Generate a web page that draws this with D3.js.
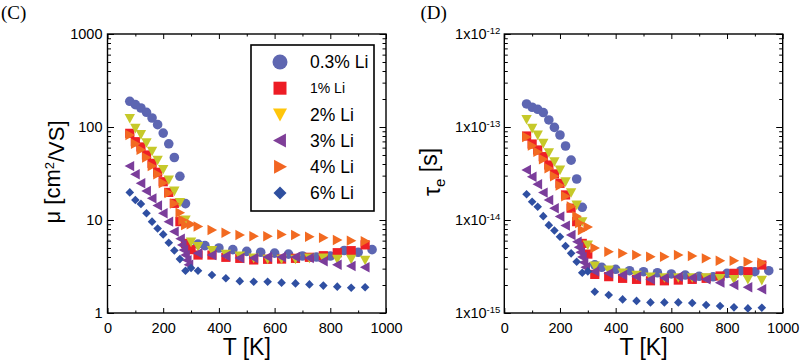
<!DOCTYPE html>
<html>
<head>
<meta charset="utf-8">
<script src="https://cdn.jsdelivr.net/npm/d3@7"></script>
<style>
  body { margin: 0; background: #fff; }
  svg { display: block; }
  text { font-family: "Liberation Sans", Arial, sans-serif; fill: #000; }
</style>
</head>
<body>
<svg id="fig" width="800" height="361"></svg>
<script>
// ---- data ----
var labels = ["0.3% Li", "1% Li", "2% Li", "3% Li", "4% Li", "6% Li"];

var tCirc = [80,100,120,140,160,180,200,220,240,260,280,325,350,400,450,500,550,600,650,700,750,800,850,900,950];
var muCirc = [189,174,160,144,125,106,86,66,47,29.5,15,5.5,5.3,5.0,4.8,4.6,4.5,4.4,4.3,4.1,4.0,4.1,4.7,4.5,4.8];
var tauCirc = [1.77e-13,1.63e-13,1.55e-13,1.43e-13,1.19e-13,9.9e-14,8.2e-14,6.25e-14,4.4e-14,2.76e-14,1.37e-14,
  3.3e-15,3.1e-15,2.95e-15,2.85e-15,2.78e-15,2.71e-15,2.63e-15,2.56e-15,2.48e-15,2.45e-15,2.67e-15,2.85e-15,2.78e-15,2.85e-15];

var tSq = [80,100,120,140,160,180,200,220,240,260,280,300,325,375,425,475,525,575,625,675,725,775,825,875,925];
var muSq = [85.5,69.5,61,50,40.7,32.6,25.8,19.8,15.1,9.6,5.6,4.8,4.2,4.2,3.97,3.87,3.72,3.78,3.8,3.87,3.97,4.13,4.45,4.68,5.4];
var tauSq = [8.0e-14,6.56e-14,5.66e-14,4.8e-14,3.9e-14,3.13e-14,2.48e-14,1.86e-14,1.34e-14,9.6e-15,5.6e-15,4.3e-15,
  2.6e-15,2.46e-15,2.36e-15,2.3e-15,2.22e-15,2.22e-15,2.26e-15,2.3e-15,2.36e-15,2.5e-15,2.67e-15,2.78e-15,3.28e-15];

var tYel = [80,100,120,140,160,180,200,220,240,260,280,300,325,375,425,475,525,575,625,675,725,775,825,875,925];
var muYel = [124,97,83,68,55,44,35,27,20.5,15.5,10,5.8,5.2,4.7,4.3,4.1,3.9,3.8,3.8,3.8,3.9,3.9,3.8,3.8,3.7];
var tauYel = [1.21e-13,9.7e-14,8.2e-14,6.7e-14,5.3e-14,4.24e-14,3.45e-14,2.58e-14,1.97e-14,1.45e-14,9.6e-15,5.4e-15,
  3.2e-15,2.9e-15,2.7e-15,2.55e-15,2.45e-15,2.4e-15,2.4e-15,2.4e-15,2.4e-15,2.35e-15,2.3e-15,2.3e-15,2.25e-15];

var tPur = [80,100,120,140,160,180,200,220,240,262,268,274,280,286,292,325,375,425,475,525,575,625,675,725,775,825,875,925];
var muPur = [38,31,24.8,20.5,17.1,14.3,11.8,9.6,7.5,6.3,5.4,4.75,4.2,3.7,3.3,4.4,4.2,4.1,3.9,3.9,4.0,4.0,4.0,3.9,3.6,3.3,3.2,3.1];
var tauPur = [3.45e-14,2.92e-14,2.42e-14,1.97e-14,1.64e-14,1.34e-14,1.09e-14,8.7e-15,6.9e-15,5.85e-15,5.1e-15,4.5e-15,4.0e-15,3.5e-15,3.1e-15,
  2.8e-15,2.67e-15,2.56e-15,2.46e-15,2.3e-15,2.38e-15,2.46e-15,2.4e-15,2.3e-15,2.12e-15,2.0e-15,1.89e-15,1.8e-15];

var tOr = [80,100,120,140,160,180,200,220,240,260,270,280,300,325,375,425,475,525,575,625,675,725,775,825,875,925];
var muOr = [82,66,57,47,38,31,25,19.5,15,12,10,8.8,9.0,8.5,7.8,7.3,6.9,6.7,6.7,7.0,6.9,6.6,6.45,6.1,6.0,5.9];
var tauOr = [7.8e-14,6.3e-14,5.4e-14,4.5e-14,3.6e-14,2.95e-14,2.35e-14,1.8e-14,1.4e-14,1.1e-14,9.3e-15,7.8e-15,8.4e-15,
  5.0e-15,4.56e-15,4.38e-15,4.2e-15,4.03e-15,4.03e-15,4.2e-15,4.1e-15,3.87e-15,3.65e-15,3.65e-15,3.55e-15,3.47e-15];

var tDia = [80,100,120,140,160,180,200,220,240,260,280,300,325,375,425,475,525,575,625,675,725,775,825,875,925];
var muDia = [19.8,16.4,14.9,11.8,9.6,8.1,7.0,5.7,4.7,3.8,2.85,3.05,2.85,2.56,2.36,2.2,2.17,2.17,2.12,2.08,2.03,1.97,1.92,1.87,1.89];
var tauDia = [1.89e-14,1.57e-14,1.39e-14,1.1e-14,8.8e-15,7.7e-15,6.6e-15,5.25e-15,4.38e-15,3.56e-15,2.71e-15,2.8e-15,
  1.69e-15,1.56e-15,1.4e-15,1.35e-15,1.3e-15,1.3e-15,1.3e-15,1.28e-15,1.22e-15,1.19e-15,1.15e-15,1.12e-15,1.14e-15];

var xTicks = [0,200,400,600,800,1000];
var muTicks = [1,10,100,1000];
var tauTicks = [1e-15,1e-14,1e-13,1e-12];

// ---- styling ----
var FONT = "'Liberation Sans', Arial, sans-serif";
var shapes = ["circle","square","down","left","right","diamond"];
var colors = ["#5d66b2","#ee1f26","#c6c92a","#7b3d9b","#f26a21","#2f4fa2"];
var legendColors = ["#5f67b1","#ed1c24","#ffc60b","#7f3f98","#f26522","#2f4f9f"];

var svg = d3.select("#fig");
var top_ = 34, bottom = 313;

function shapePath(kind, s) {
  if (kind == "circle") return d3.symbol().type(d3.symbolCircle).size(Math.PI * s * s)();
  if (kind == "square") return d3.symbol().type(d3.symbolSquare).size(4 * s * s)();
  if (kind == "down") return "M" + (-s) + "," + (-0.85 * s) + "L" + s + "," + (-0.85 * s) + "L0," + s + "Z";
  if (kind == "left") return "M" + (-s) + ",0L" + (0.85 * s) + "," + (-s) + "L" + (0.85 * s) + "," + s + "Z";
  if (kind == "right") return "M" + s + ",0L" + (-0.85 * s) + "," + (-s) + "L" + (-0.85 * s) + "," + s + "Z";
  return "M0," + (-s) + "L" + s + ",0L0," + s + "L" + (-s) + ",0Z";
}
var markerSize = [4.8, 4.6, 5.2, 5.2, 5.2, 4.3];

function minorLog(domain) {
  var out = [];
  for (var e = Math.round(Math.log10(domain[0])); e < Math.round(Math.log10(domain[1])); e++) {
    for (var d = 2; d <= 9; d++) out.push(d * Math.pow(10, e));
  }
  return out;
}

function drawPanel(cfg) {
  var x = d3.scaleLinear().domain([0, 1000]).range([cfg.left, cfg.right]);
  var y = d3.scaleLog().domain(cfg.yDomain).range([bottom, top_]);
  var g = svg.append("g");

  // x axis bottom (inward ticks) + top mirror
  var xMinor = d3.range(100, 1000, 200);
  g.append("g").attr("transform", "translate(0," + bottom + ")")
    .call(d3.axisBottom(x).tickValues(xTicks).tickSizeInner(-5).tickSizeOuter(0).tickPadding(9.5).tickFormat(d3.format("d")))
    .call(function (a) { a.select(".domain").remove(); });
  g.append("g").attr("transform", "translate(0," + bottom + ")")
    .call(d3.axisBottom(x).tickValues(xMinor).tickSizeInner(-2.5).tickSizeOuter(0).tickFormat(""))
    .select(".domain").remove();
  g.append("g").attr("transform", "translate(0," + top_ + ")")
    .call(d3.axisTop(x).tickValues(xTicks).tickSizeInner(-5).tickSizeOuter(0).tickFormat(""))
    .select(".domain").remove();
  g.append("g").attr("transform", "translate(0," + top_ + ")")
    .call(d3.axisTop(x).tickValues(xMinor).tickSizeInner(-2.5).tickSizeOuter(0).tickFormat(""))
    .select(".domain").remove();

  // y axis left + right mirror
  var yl = g.append("g").attr("transform", "translate(" + cfg.left + ",0)")
    .call(d3.axisLeft(y).tickValues(cfg.yTicks).tickSizeInner(-6.5).tickSizeOuter(0).tickPadding(cfg.yPad).tickFormat(cfg.fmt));
  yl.select(".domain").remove();
  if (cfg.sup) {
    yl.selectAll(".tick text").each(function (d) {
      var t = d3.select(this);
      t.text("1x10");
      t.append("tspan").attr("dy", "-0.5em").style("font-size", "9.5px").text(Math.round(Math.log10(d)));
    });
  }
  g.append("g").attr("transform", "translate(" + cfg.left + ",0)")
    .call(d3.axisLeft(y).tickValues(minorLog(cfg.yDomain)).tickSizeInner(-3.5).tickSizeOuter(0).tickFormat(""))
    .select(".domain").remove();
  g.append("g").attr("transform", "translate(" + cfg.right + ",0)")
    .call(d3.axisRight(y).tickValues(cfg.yTicks).tickSizeInner(-6.5).tickSizeOuter(0).tickFormat(""))
    .select(".domain").remove();
  g.append("g").attr("transform", "translate(" + cfg.right + ",0)")
    .call(d3.axisRight(y).tickValues(minorLog(cfg.yDomain)).tickSizeInner(-3.5).tickSizeOuter(0).tickFormat(""))
    .select(".domain").remove();
  g.selectAll(".tick line").attr("stroke", "#000").attr("stroke-width", 1);
  g.selectAll(".tick text").style("font-family", FONT).style("font-size", "14.5px");

  // frame
  g.append("rect")
    .attr("x", cfg.left).attr("y", top_)
    .attr("width", cfg.right - cfg.left).attr("height", bottom - top_)
    .attr("fill", "none").attr("stroke", "#000").attr("stroke-width", 1.4);

  // points
  cfg.series.forEach(function (s, k) {
    var pts = s.t.map(function (t, i) { return { t: t, v: s.v[i] }; });
    g.append("g").selectAll("path").data(pts).enter().append("path")
      .attr("d", shapePath(shapes[k], markerSize[k]))
      .attr("transform", function (d) { return "translate(" + x(d.t) + "," + y(d.v) + ")"; })
      .attr("fill", colors[k]);
  });

  // axis titles
  svg.append("text").attr("x", (cfg.left + cfg.right) / 2).attr("y", 355)
    .attr("text-anchor", "middle").style("font-size", "23px").text("T [K]");
  svg.append("text")
    .style("font-family", "'Liberation Serif', 'Times New Roman', serif")
    .attr("x", cfg.tagX).attr("y", 19).style("font-size", "19px").text(cfg.tag);
  return { x: x, y: y };
}

drawPanel({
  left: 107.5, right: 386, yDomain: [1, 1000], yTicks: muTicks, yPad: 5,
  fmt: d3.format("d"), sup: false, tag: "(C)", tagX: 1,
  series: [
    { t: tCirc, v: muCirc }, { t: tSq, v: muSq }, { t: tYel, v: muYel },
    { t: tPur, v: muPur }, { t: tOr, v: muOr }, { t: tDia, v: muDia }
  ]
});

drawPanel({
  left: 504.3, right: 782.7, yDomain: [1e-15, 1e-12], yTicks: tauTicks, yPad: 4,
  fmt: function () { return ""; }, sup: true, tag: "(D)", tagX: 420.5,
  series: [
    { t: tCirc, v: tauCirc }, { t: tSq, v: tauSq }, { t: tYel, v: tauYel },
    { t: tPur, v: tauPur }, { t: tOr, v: tauOr }, { t: tDia, v: tauDia }
  ]
});

// y titles
svg.append("text").attr("transform", "translate(60,172) rotate(-90)")
  .attr("text-anchor", "middle").style("font-size", "22px")
  .html("μ [cm<tspan dy='-0.45em' style='font-size:13px'>2</tspan><tspan dy='0.45em'>/VS]</tspan>");
svg.append("text").attr("transform", "translate(440,172) rotate(-90)")
  .attr("text-anchor", "middle").style("font-size", "23px")
  .html("τ<tspan dy='0.35em' style='font-size:15px'>e</tspan><tspan dy='-0.35em'> [s]</tspan>");

// legend
var lg = svg.append("g");
lg.append("rect").attr("x", 251).attr("y", 45).attr("width", 123).attr("height", 166)
  .attr("fill", "#fff").attr("stroke", "#000").attr("stroke-width", 1.6);
var legY = d3.scalePoint().domain(labels).range([62, 193]);
var legSize = [7.5, 6.5, 7, 7, 7, 6.5];
labels.forEach(function (lab, k) {
  lg.append("path").attr("d", shapePath(shapes[k], legSize[k]))
    .attr("transform", "translate(280," + legY(lab) + ")")
    .attr("fill", legendColors[k]);
  lg.append("text").attr("x", 310).attr("y", legY(lab)).attr("dy", "0.36em")
    .style("font-size", k == 1 ? "14px" : "17.5px").text(lab);
});
</script>
</body>
</html>
